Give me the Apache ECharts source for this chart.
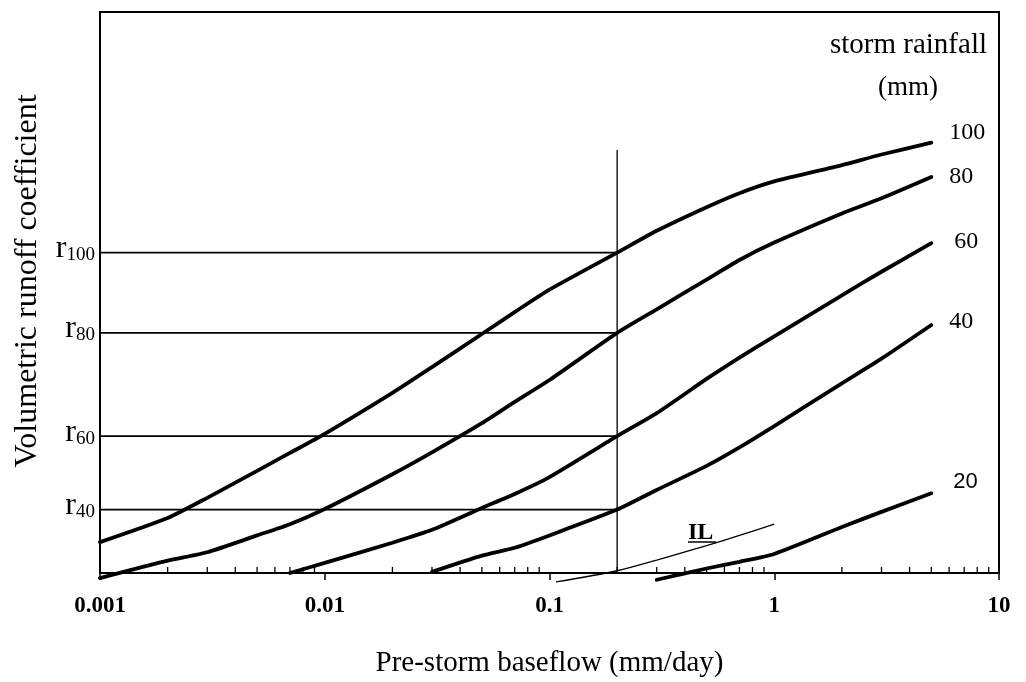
<!DOCTYPE html>
<html><head><meta charset="utf-8">
<script src="https://cdn.jsdelivr.net/npm/echarts@6/dist/echarts.min.js"></script>
<style>html,body{margin:0;padding:0;background:#fff}#c{width:1026px;height:682px}</style>
</head><body><div id="c"></div>
<script>
// ---- data ----
var baseflow = [0.001,0.002,0.003,0.005,0.007,0.01,0.02,0.03,0.05,0.07,0.1,0.2,0.3,0.5,0.7,1,2,3,5];
var curve100 = [0.055,0.098,0.134,0.182,0.214,0.248,0.321,0.367,0.426,0.465,0.505,0.571,0.610,0.652,0.677,0.698,0.727,0.746,0.767];
var curve80  = [-0.009,0.022,0.037,0.067,0.087,0.114,0.176,0.215,0.267,0.305,0.344,0.428,0.470,0.523,0.558,0.589,0.641,0.668,0.706];
var curve60  = [null,null,null,null,0.000,0.018,0.054,0.077,0.116,0.141,0.171,0.244,0.285,0.346,0.384,0.422,0.495,0.537,0.588];
var curve40  = [null,null,null,null,null,null,null,0.002,0.031,0.045,0.067,0.113,0.148,0.191,0.224,0.262,0.338,0.382,0.442];
var curve20  = [null,null,null,null,null,null,null,null,null,null,null,null,-0.012,0.008,0.020,0.034,0.082,0.109,0.142];
var rainfallLabels = ['100','80','60','40','20'];
var ilBaseflow = [0.107,0.2,0.3,0.5,0.7,1];
var ilValues   = [-0.016,0.004,0.023,0.049,0.067,0.087];
var rLevels = [0.571,0.428,0.244,0.113];
var rSubscripts = ['100','80','60','40'];
var markBaseflow = 0.2;
var markTop = 0.754;
var xTickLabels = ['0.001','0.01','0.1','1','10'];
var minorTickValues = [0.002,0.003,0.004,0.005,0.006,0.007,0.008,0.009,
  0.02,0.03,0.04,0.05,0.06,0.07,0.08,0.09,
  0.2,0.3,0.4,0.5,0.6,0.7,0.8,0.9,
  2,3,4,5,6,7,8,9];

// ---- chart ----
var serif = 'Liberation Serif';
var chart = echarts.init(document.getElementById('c'), null, {renderer:'canvas'});

function pairs(xs, ys){
  var out = [];
  for (var i = 0; i < xs.length; i++) if (ys[i] !== null) out.push([xs[i], ys[i]]);
  return out;
}

var curves = [curve100, curve80, curve60, curve40, curve20];
var endLabelOffsets = [[0,-10],[0,0],[5,-1],[0,-3],[4,-11]];
var series = [];

// reference horizontal lines
rLevels.forEach(function(r, i){
  series.push({
    type:'line', name:'r'+rSubscripts[i], data:[[baseflow[0], r],[markBaseflow, r]],
    symbol:'none', silent:true, z:2,
    lineStyle:{color:'#000', width:1.6}
  });
});
// vertical line at 0.2
series.push({
  type:'line', name:'mark', data:[[markBaseflow,0],[markBaseflow,markTop]],
  symbol:'none', silent:true, z:2, lineStyle:{color:'#000', width:1.3}
});
// r labels
series.push({
  type:'scatter', name:'rlabels', symbolSize:0, clip:false, z:5, silent:true,
  itemStyle:{opacity:1, color:'#000'},
  data: rLevels.map(function(r){ return [baseflow[0], r]; }),
  label:{
    show:true, position:'left', distance:5, offset:[0,-4], color:'#000',
    formatter:function(p){ return '{r|r}{s|' + rSubscripts[p.dataIndex] + '}'; },
    rich:{
      r:{fontFamily:serif, fontSize:32, color:'#000', verticalAlign:'bottom'},
      s:{fontFamily:serif, fontSize:19, color:'#000', verticalAlign:'bottom'}
    }
  }
});
// storm rainfall curves
curves.forEach(function(c, i){
  series.push({
    type:'line', name:rainfallLabels[i], data:pairs(baseflow, c),
    symbol:'none', smooth:0.2, clip:false, z:3,
    lineStyle:{color:'#000', width:3.8, cap:'round'}
  });
});
// curve labels at the curve ends
series.push({
  type:'scatter', name:'curveLabels', symbolSize:0, clip:false, z:5, silent:true,
  itemStyle:{opacity:1, color:'#000'},
  data: curves.map(function(c, i){
    return {value:[baseflow[baseflow.length-1], c[c.length-1]],
            label:{offset:endLabelOffsets[i],
                   fontFamily: i === 4 ? 'Liberation Sans' : serif,
                   fontSize: i === 4 ? 22 : 24}};
  }),
  label:{
    show:true, position:'right', distance:18, color:'#000',
    formatter:function(p){ return rainfallLabels[p.dataIndex]; }
  }
});
// IL line
series.push({
  type:'line', name:'IL', data:pairs(ilBaseflow, ilValues),
  symbol:'none', smooth:0.3, clip:false, z:3,
  lineStyle:{color:'#000', width:1.3}
});
// minor ticks (pointing into the plot)
series.push({
  type:'custom', name:'minorTicks', silent:true, clip:false, z:4,
  data: minorTickValues.map(function(v){ return [v, 0]; }),
  renderItem:function(params, api){
    var p = api.coord([api.value(0), 0]);
    return {type:'line', shape:{x1:p[0], y1:p[1], x2:p[0], y2:p[1]-6},
            style:{stroke:'#000', lineWidth:1.3}};
  }
});

var option = {
  animation:false,
  backgroundColor:'#fff',
  grid:{left:100, top:12, right:27, bottom:109, show:true, borderColor:'#000', borderWidth:2, outerBoundsMode:'none'},
  xAxis:{
    type:'log', logBase:10, min:0.001, max:10,
    name:'Pre-storm baseflow (mm/day)', nameLocation:'middle', nameGap:76,
    nameTextStyle:{fontFamily:serif, fontSize:29, color:'#000'},
    axisLine:{show:true, lineStyle:{color:'#000', width:2}},
    axisTick:{show:true, length:7, lineStyle:{color:'#000', width:1.5}},
    minorTick:{show:false},
    splitLine:{show:false},
    axisLabel:{
      fontFamily:serif, fontWeight:'bold', fontSize:23, color:'#000', margin:22,
      formatter:function(v){ return xTickLabels[Math.round(Math.log10(v)) + 3]; }
    }
  },
  yAxis:{
    type:'value', min:0, max:1,
    axisLine:{show:true, lineStyle:{color:'#000', width:2}},
    axisTick:{show:false}, axisLabel:{show:false}, splitLine:{show:false}
  },
  graphic:[
    {type:'text', x:28, y:281, rotation:Math.PI/2,
     style:{text:'Volumetric runoff coefficient', fontFamily:serif, fontSize:32, fill:'#000', textAlign:'center', textVerticalAlign:'middle'}},
    {type:'text', x:987, y:45,
     style:{text:'storm rainfall', fontFamily:serif, fontSize:29, fill:'#000', textAlign:'right', textVerticalAlign:'middle'}},
    {type:'text', x:908, y:88,
     style:{text:'(mm)', fontFamily:serif, fontSize:27, fill:'#000', textAlign:'center', textVerticalAlign:'middle'}},
    {type:'text', x:688, y:533,
     style:{text:'IL', fontFamily:serif, fontWeight:'bold', fontSize:24, fill:'#000', textAlign:'left', textVerticalAlign:'middle'}},
    {type:'line', shape:{x1:688, y1:542, x2:716, y2:542}, style:{stroke:'#000', lineWidth:1.5}}
  ],
  series:series
};
chart.setOption(option);
</script>
</body></html>
